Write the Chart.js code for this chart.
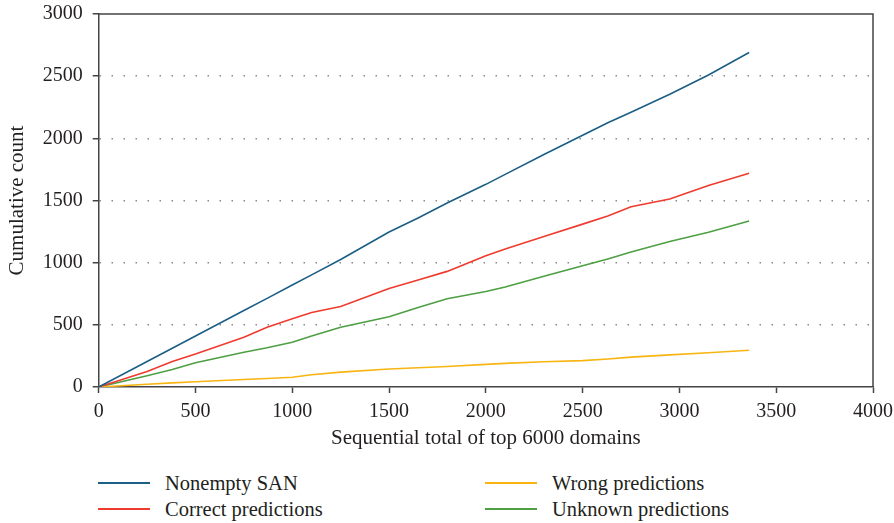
<!DOCTYPE html>
<html>
<head>
<meta charset="utf-8">
<script src="https://cdn.jsdelivr.net/npm/chart.js@4.4.1/dist/chart.umd.min.js"></script>
<style>
  body { margin: 0; background: #fff; }
  #wrap { position: relative; width: 894px; height: 523px; }
  #chart { position: absolute; left: 0; top: 0; }
  .leg { position: absolute; font-family: "Liberation Serif", "DejaVu Serif", serif; font-size: 20.5px; color: #231f20; line-height: 24px; white-space: nowrap; }
  .leg span { position: absolute; left: 0; top: 11px; width: 52px; height: 2px; }
  .leg b { font-weight: normal; position: absolute; left: 67px; top: 0; }
</style>
</head>
<body>
<div id="wrap">
  <canvas id="chart" width="894" height="460"></canvas>
  <div id="legend"></div>
</div>
<script>
// sample positions along the x axis (sequential total)
const xValues = [0, 250, 380, 500, 750, 870, 1000, 1100, 1250, 1500, 1650, 1800, 2000, 2100, 2300, 2500, 2630, 2750, 2950, 3150, 3360];

const nonemptySan = [0, 205, 312, 410, 615, 713, 820, 902, 1025, 1246, 1360, 1480, 1630, 1710, 1870, 2025, 2125, 2210, 2355, 2510, 2690];
const correctPred = [0, 125, 205, 265, 400, 480, 548, 600, 648, 793, 860, 930, 1055, 1110, 1210, 1310, 1375, 1450, 1512, 1620, 1720];
const wrongPred = [0, 22, 33, 42, 60, 68, 78, 98, 120, 145, 155, 165, 182, 190, 203, 212, 225, 240, 258, 275, 295];
const unknownPred = [0, 90, 140, 195, 280, 315, 360, 410, 480, 565, 640, 710, 768, 805, 890, 975, 1030, 1085, 1170, 1245, 1335];

const seriesNames = ["Nonempty SAN", "Correct predictions", "Wrong predictions", "Unknown predictions"];
const seriesColors = ["#1b5e86", "#ef3b2e", "#f8b512", "#4e9f44"];

const FONT = "'Liberation Serif', 'DejaVu Serif', serif";
const INK = "#231f20";

function toPoints(ys) {
    return xValues.map((x, i) => ({ x: x, y: ys[i] }));
}

const allSeries = [nonemptySan, correctPred, wrongPred, unknownPred];

// frame on top and right side of the plot
const framePlugin = {
    id: 'frame',
    afterDraw(chart) {
        const a = chart.chartArea;
        const ctx = chart.ctx;
        ctx.save();
        ctx.strokeStyle = '#444';
        ctx.lineWidth = 1.5;
        ctx.beginPath();
        ctx.moveTo(a.left, a.top);
        ctx.lineTo(a.right, a.top);
        ctx.lineTo(a.right, a.bottom);
        ctx.stroke();
        ctx.restore();
    }
};

new Chart(document.getElementById("chart"), {
    type: 'line',
    data: {
        datasets: allSeries.map((s, i) => ({
            label: seriesNames[i],
            data: toPoints(s),
            borderColor: seriesColors[i],
            backgroundColor: seriesColors[i],
            borderWidth: 1.6,
            pointRadius: 0,
            tension: 0
        }))
    },
    options: {
        responsive: false,
        animation: false,
        layout: { padding: { top: 14, right: 21, bottom: 6, left: 0 } },
        plugins: {
            legend: { display: false },
            tooltip: { enabled: false }
        },
        scales: {
            x: {
                type: 'linear',
                min: 0,
                max: 4000,
                afterFit: (s) => { s.height = 67; s.paddingLeft = 0; s.paddingRight = 0; },
                ticks: { stepSize: 500, color: INK, font: { family: FONT, size: 20 }, padding: 7, maxRotation: 0, callback: (v) => String(v) },
                grid: { drawOnChartArea: false, tickLength: 6, tickColor: '#444', tickWidth: 1.5 },
                border: { color: '#444', width: 1.5 },
                title: { display: true, text: 'Sequential total of top 6000 domains', color: INK, font: { family: FONT, size: 21 }, padding: { top: 0, bottom: 3 } }
            },
            y: {
                min: 0,
                max: 3000,
                afterFit: (s) => { s.width = 98.7; s.paddingTop = 0; s.paddingBottom = 0; },
                ticks: { stepSize: 500, color: INK, font: { family: FONT, size: 20 }, padding: 10, callback: (v) => String(v) },
                grid: {
                    color: (c) => (c.tick && (c.tick.value === 0 || c.tick.value === 3000)) ? 'rgba(0,0,0,0)' : '#8a8a8a',
                    lineWidth: 1.5,
                    tickLength: 6,
                    tickColor: '#444',
                    tickWidth: 1.5
                },
                border: { color: '#444', width: 1.5, dash: [1.5, 10.5] },
                title: { display: true, text: 'Cumulative count', color: INK, font: { family: FONT, size: 21 }, padding: { top: 5, bottom: 0 } }
            }
        }
    },
    plugins: [framePlugin]
});

// legend in two columns below the chart
const legendPos = [[98, 471], [98, 497], [485, 471], [485, 497]];
const legendEl = document.getElementById("legend");
seriesNames.forEach((name, i) => {
    const d = document.createElement("div");
    d.className = "leg";
    d.style.left = legendPos[i][0] + "px";
    d.style.top = legendPos[i][1] + "px";
    d.innerHTML = '<span style="background:' + seriesColors[i] + '"></span><b>' + name + '</b>';
    legendEl.appendChild(d);
});
</script>
</body>
</html>
